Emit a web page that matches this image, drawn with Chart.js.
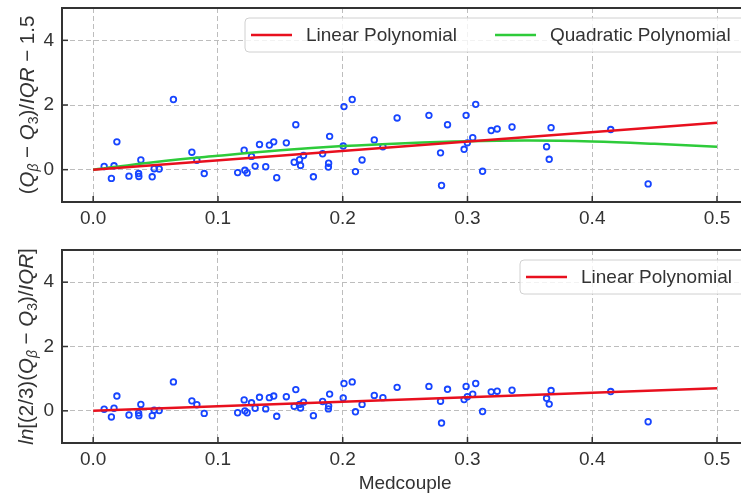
<!DOCTYPE html>
<html>
<head>
<meta charset="utf-8">
<script src="https://cdn.jsdelivr.net/npm/chart.js@4.4.1/dist/chart.umd.min.js"></script>
<style>
  html, body { margin: 0; padding: 0; background: #fff; width: 741px; height: 495px; overflow: hidden; }
  #top { position: absolute; left: 0; top: 0; width: 754px; height: 232px; }
  #bot { position: absolute; left: 0; top: 232px; width: 754px; height: 263px; }
</style>
</head>
<body>
<div id="top"><canvas id="c1"></canvas></div>
<div id="bot"><canvas id="c2"></canvas></div>
<script>
// medcouple of each sample (x) and the two skewness measures (y)
var medcouple = [0.0088, 0.0146, 0.0167, 0.019, 0.0287, 0.0364, 0.0366, 0.0382, 0.0473, 0.0489,
  0.0529, 0.0643, 0.0791, 0.0831, 0.089, 0.1158, 0.121, 0.1216, 0.1234, 0.1269,
  0.1298, 0.1333, 0.1383, 0.1412, 0.1447, 0.1471, 0.1548, 0.1611, 0.1624, 0.1654,
  0.1662, 0.1686, 0.1765, 0.1839, 0.1887, 0.1885, 0.1895, 0.2004, 0.201, 0.2076,
  0.2102, 0.2155, 0.2253, 0.2322, 0.2436, 0.2691, 0.2784, 0.2792, 0.284, 0.2973,
  0.2989, 0.2999, 0.3042, 0.3066, 0.3121, 0.319, 0.3238, 0.3357, 0.3634, 0.3655,
  0.367, 0.4148, 0.4448];
var fenceTop = [0.10, -0.27, 0.12, 0.86, -0.20, -0.12, -0.21, 0.30, -0.22, 0.03,
  0.02, 2.17, 0.54, 0.29, -0.12, -0.09, 0.60, -0.02, -0.10, 0.41,
  0.11, 0.78, 0.09, 0.76, 0.86, -0.25, 0.83, 0.23, 1.39, 0.31,
  0.13, 0.44, -0.22, 0.49, 0.20, 0.08, 1.03, 0.73, 1.95, 2.17,
  -0.06, 0.30, 0.92, 0.71, 1.60, 1.68, 0.52, -0.49, 1.39, 0.63,
  1.68, 0.83, 0.99, 2.02, -0.05, 1.21, 1.26, 1.32, 0.71, 0.32,
  1.30, 1.24, -0.44];
var fenceBot = [0.05, -0.19, 0.08, 0.46, -0.13, -0.07, -0.15, 0.20, -0.15, 0.02,
  0.01, 0.90, 0.31, 0.19, -0.08, -0.06, 0.34, 0.00, -0.06, 0.25,
  0.08, 0.42, 0.06, 0.41, 0.46, -0.17, 0.44, 0.14, 0.66, 0.20,
  0.09, 0.27, -0.15, 0.29, 0.15, 0.06, 0.52, 0.40, 0.85, 0.90,
  -0.03, 0.20, 0.48, 0.41, 0.73, 0.76, 0.30, -0.38, 0.67, 0.35,
  0.76, 0.44, 0.52, 0.85, -0.02, 0.59, 0.61, 0.64, 0.39, 0.21,
  0.63, 0.60, -0.34];

// fitted curves
var linX = [0, 0.5];
var linTop = [0, 1.45];
var linBot = [0, 0.70];
var quadX = [0, 0.05, 0.1, 0.15, 0.2, 0.25, 0.3, 0.35, 0.4, 0.45, 0.5];
var quadTop = [0, 0.24, 0.43, 0.60, 0.73, 0.82, 0.88, 0.90, 0.87, 0.80, 0.71];

var xTicks = [0, 0.1, 0.2, 0.3, 0.4, 0.5];
var yTicks = [0, 2, 4];

var FONT = '"Liberation Sans", Arial, sans-serif';
var RED = '#e8101e', GREEN = '#2ecb3a', BLUE = '#1745ff';

function pts(xs, ys) {
  return xs.map(function (v, i) { return { x: v, y: ys[i] }; });
}

// titles with italic letters and subscripts
var titleTop = [['(', 0], ['Q', 1], ['\u03b2', 3], [' \u2212 ', 0], ['Q', 1], ['3', 2], [')/', 0], ['IQR', 1], [' \u2212 1.5', 0]];
var titleBot = [['ln', 1], ['[(2/3)(', 0], ['Q', 1], ['\u03b2', 3], [' \u2212 ', 0], ['Q', 1], ['3', 2], [')/', 0], ['IQR', 1], [']', 0]];

function segFont(kind) {
  var size = kind >= 2 ? 14 : 20.5;
  var it = (kind === 1 || kind === 3) ? 'italic ' : '';
  return it + size + 'px ' + FONT;
}

var framePlugin = {
  id: 'frame',
  afterDraw: function (chart) {
    var ctx = chart.ctx, a = chart.chartArea;
    var sx = chart.scales.x, sy = chart.scales.y;
    ctx.save();
    ctx.strokeStyle = '#333';
    ctx.lineWidth = 1.5;
    sx.ticks.forEach(function (t) {
      var p = sx.getPixelForValue(t.value);
      ctx.beginPath(); ctx.moveTo(p, a.bottom); ctx.lineTo(p, a.bottom - 6); ctx.stroke();
    });
    sy.ticks.forEach(function (t) {
      var p = sy.getPixelForValue(t.value);
      ctx.beginPath(); ctx.moveTo(a.left, p); ctx.lineTo(a.left + 6, p); ctx.stroke();
    });
    ctx.lineWidth = 2;
    ctx.strokeRect(a.left, a.top, a.right - a.left, a.bottom - a.top);

    // legend inside the plot, top right
    var opt = chart.options.plugins.boxLegend;
    var items = chart.data.datasets.filter(function (d) { return d.showLine; });
    ctx.font = '19px ' + FONT;
    var bx = opt.x, by = a.top + opt.dy, bh = 34;
    ctx.beginPath();
    ctx.roundRect(bx, by, 760 - bx, bh, 4);
    ctx.fillStyle = 'rgba(255,255,255,0.8)';
    ctx.fill();
    ctx.strokeStyle = '#d0d0d0';
    ctx.lineWidth = 1;
    ctx.stroke();
    var cx = bx + 6, cy = by + bh / 2;
    items.forEach(function (d) {
      ctx.strokeStyle = d.borderColor;
      ctx.lineWidth = 2.5;
      ctx.beginPath(); ctx.moveTo(cx, cy); ctx.lineTo(cx + 41, cy); ctx.stroke();
      ctx.fillStyle = '#333';
      ctx.textBaseline = 'middle';
      ctx.textAlign = 'left';
      ctx.fillText(d.label, cx + 55, cy + 1);
      cx += 55 + ctx.measureText(d.label).width + 38;
    });

    // rotated y title
    var segs = opt.title;
    var total = 0;
    segs.forEach(function (s) { ctx.font = segFont(s[1]); total += ctx.measureText(s[0]).width; });
    ctx.translate(opt.tx, (a.top + a.bottom) / 2);
    ctx.rotate(-Math.PI / 2);
    ctx.fillStyle = '#333';
    ctx.textBaseline = 'alphabetic';
    var px = -total / 2;
    segs.forEach(function (s) {
      ctx.font = segFont(s[1]);
      ctx.fillText(s[0], px, s[1] >= 2 ? 11 : 7);
      px += ctx.measureText(s[0]).width;
    });
    ctx.restore();
  }
};

function makeChart(id, datasets, cfg) {
  return new Chart(document.getElementById(id), {
    type: 'scatter',
    data: { datasets: datasets },
    plugins: [framePlugin],
    options: {
      responsive: true,
      maintainAspectRatio: false,
      animation: false,
      layout: { padding: { top: cfg.top, right: 1, left: 0, bottom: 0 } },
      plugins: {
        legend: { display: false },
        tooltip: { enabled: false },
        boxLegend: { x: cfg.legendX, dy: cfg.legendDy, title: cfg.title, tx: cfg.tx }
      },
      scales: {
        x: {
          type: 'linear', min: -0.025, max: 0.525,
          afterBuildTicks: function (s) { s.ticks = xTicks.map(function (v) { return { value: v }; }); },
          afterFit: function (s) { s.height = cfg.xh; s.paddingLeft = 0; s.paddingRight = 0; },
          border: { display: false, dash: [5, 3] },
          grid: { color: '#bdbdbd', lineWidth: 1, drawTicks: false },
          ticks: { color: '#333', font: { family: FONT, size: 19 }, padding: 5, maxRotation: 0,
            callback: function (v) { return Number(v).toFixed(1); } },
          title: { display: !!cfg.xTitle, text: cfg.xTitle || '', color: '#333',
            font: { family: FONT, size: 19 }, padding: { top: 2, bottom: 0 } }
        },
        y: {
          type: 'linear', min: -1, max: 5,
          afterBuildTicks: function (s) { s.ticks = yTicks.map(function (v) { return { value: v }; }); },
          afterFit: function (s) { s.width = 62; s.paddingTop = 0; s.paddingBottom = 0; },
          border: { display: false, dash: [5, 3] },
          grid: { color: '#bdbdbd', lineWidth: 1, drawTicks: false },
          ticks: { color: '#333', font: { family: FONT, size: 19 }, padding: 8 }
        }
      }
    }
  });
}

makeChart('c1', [
  { label: 'Linear Polynomial', data: pts(linX, linTop), showLine: true, borderColor: RED, borderWidth: 2.5, pointRadius: 0, order: 0 },
  { label: 'Quadratic Polynomial', data: pts(quadX, quadTop), showLine: true, borderColor: GREEN, borderWidth: 2.5, pointRadius: 0, tension: 0.4, order: 0 },
  { label: 'data', data: pts(medcouple, fenceTop), borderColor: BLUE, backgroundColor: 'rgba(0,0,0,0)', pointRadius: 2.8, borderWidth: 1.8, order: 1 }
], { top: 8, xh: 30, legendX: 245, legendDy: 10, title: titleTop, tx: 27 });

makeChart('c2', [
  { label: 'Linear Polynomial', data: pts(linX, linBot), showLine: true, borderColor: RED, borderWidth: 2.5, pointRadius: 0, order: 0 },
  { label: 'data', data: pts(medcouple, fenceBot), borderColor: BLUE, backgroundColor: 'rgba(0,0,0,0)', pointRadius: 2.8, borderWidth: 1.8, order: 1 }
], { top: 18, xh: 52, legendX: 520, legendDy: 10, title: titleBot, tx: 26, xTitle: 'Medcouple' });
</script>
</body>
</html>
